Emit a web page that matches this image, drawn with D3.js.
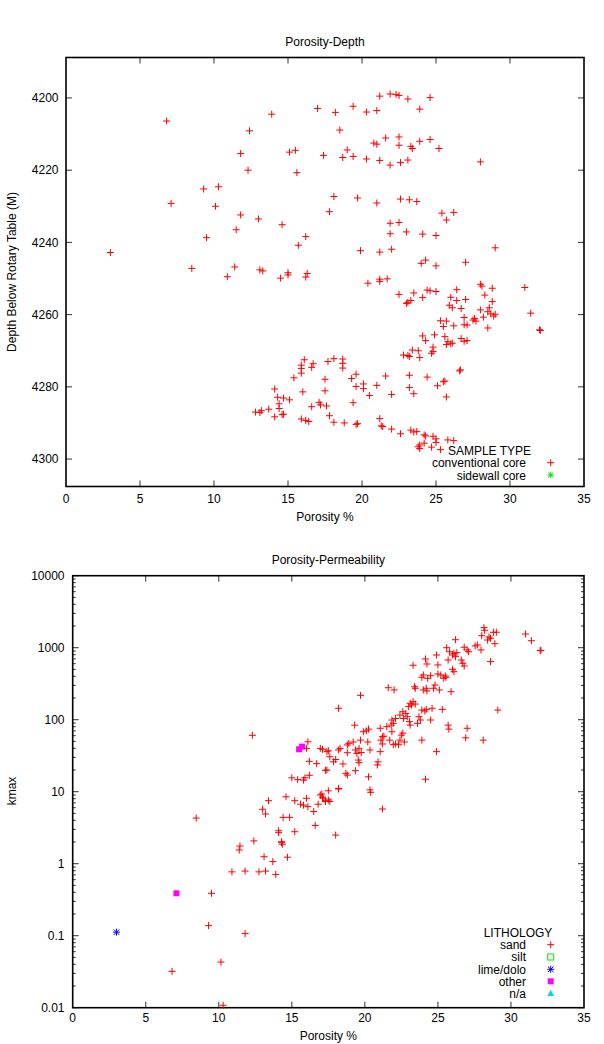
<!DOCTYPE html>
<html>
<head>
<meta charset="utf-8">
<script src="https://cdn.jsdelivr.net/npm/d3@7"></script>
<style>
  html, body { margin: 0; padding: 0; background: #fff; }
  svg { display: block; font-family: "Liberation Sans", Arial, Helvetica, sans-serif; }
</style>
</head>
<body>
<svg id="chart" width="604" height="1044"></svg>
<script>
// ---------- DATA ----------
const chartTitles = ["Porosity-Depth", "Porosity-Permeability"];
const xLabel = "Porosity %";
const depthLabel = "Depth Below Rotary Table (M)";
const permLabel = "kmax";
const porosityTicks = [0, 5, 10, 15, 20, 25, 30, 35];
const depthTicks = [4200, 4220, 4240, 4260, 4280, 4300];
const permTicks = [0.01, 0.1, 1, 10, 100, 1000, 10000];
const sampleTypes = ["conventional core", "sidewall core"];
const lithologies = ["sand", "silt", "lime/dolo", "other", "n/a"];

// Porosity-Depth: conventional core [porosity %, depth M]
const conventionalCore = [
[6.8,4206.4],[13.9,4204.5],[17.0,4202.9],[12.4,4209.1],[11.8,4215.4],[15.1,4215.0],[15.5,4214.5],[17.4,4215.9],[12.3,4220.0],[15.6,4220.7],
[9.3,4225.2],[10.3,4224.6],[7.1,4229.2],[10.1,4230.0],[11.8,4232.4],[13.0,4233.5],[14.6,4235.1],[11.5,4236.5],[16.2,4238.4],[15.7,4240.8],
[9.5,4238.7],[3.0,4242.8],[8.5,4247.2],[11.4,4246.8],[13.1,4247.6],[13.3,4247.9],[10.9,4249.5],[14.5,4249.9],[15.0,4248.4],[15.0,4249.0],
[16.3,4248.6],[16.2,4249.6],[17.8,4231.5],
[21.2,4199.5],[21.9,4198.9],[22.3,4199.0],[22.5,4199.3],[23.1,4200.3],[24.6,4199.9],[19.4,4202.3],[18.2,4204.0],[20.3,4203.9],[21.0,4203.5],
[23.9,4203.1],[18.5,4208.9],[19.0,4214.4],[18.7,4216.5],[19.4,4216.2],[20.3,4216.9],[20.8,4212.5],[21.0,4212.8],[21.6,4211.1],[22.5,4210.8],
[22.5,4213.1],[23.3,4213.4],[23.4,4214.0],[23.9,4212.0],[24.6,4211.5],[25.2,4214.0],[21.2,4217.3],[21.9,4218.6],[22.6,4217.9],[23.1,4217.2],
[28.0,4217.7],[18.1,4227.3],[19.7,4227.7],[21.0,4229.1],[22.6,4228.0],[23.2,4228.2],[23.7,4228.7],[25.4,4231.9],[26.2,4231.7],[25.7,4233.8],
[21.9,4234.7],[22.5,4234.5],[21.9,4237.6],[23.0,4237.1],[24.1,4237.7],[25.0,4238.1],[29.0,4241.5],[19.9,4242.3],[21.2,4242.7],[22.0,4241.9],
[24.0,4245.8],[24.3,4244.9],[25.0,4246.5],[27.0,4245.5],[21.2,4250.2],[21.7,4250.1],
[16.1,4272.5],[15.9,4274.0],[15.9,4274.9],[15.9,4276.2],[16.7,4273.6],[16.6,4274.6],[17.7,4273.0],[15.4,4277.5],[17.5,4277.9],[14.1,4280.6],
[16.0,4281.4],[17.5,4281.1],[14.3,4282.9],[14.7,4283.1],[15.1,4283.6],[14.4,4284.7],[14.4,4286.0],[13.7,4286.2],[12.8,4287.0],[13.1,4287.1],
[13.2,4286.6],[14.1,4288.3],[14.6,4287.7],[14.7,4287.6],[15.9,4288.9],[16.2,4289.3],[16.4,4289.6],[16.6,4285.5],[17.1,4284.3],[17.2,4285.0],
[17.6,4285.3],[17.8,4288.0],
[20.4,4251.3],[21.2,4250.8],[22.5,4254.4],[23.5,4254.0],[23.0,4256.9],[23.1,4256.6],[23.3,4256.1],[24.1,4255.3],[24.4,4253.2],[24.6,4253.4],
[25.0,4253.6],[26.4,4253.1],[28.0,4251.6],[28.1,4252.1],[28.8,4252.7],[31.0,4252.5],[28.3,4254.6],[26.0,4255.2],[25.9,4257.4],[26.1,4258.1],
[26.4,4256.1],[27.0,4255.8],[26.7,4258.3],[28.8,4256.4],[28.6,4258.1],[28.5,4259.2],[28.7,4259.8],[28.9,4260.4],[29.0,4259.9],[28.0,4258.7],
[28.2,4260.7],[31.4,4259.6],[32.0,4264.2],[32.05,4264.4],[28.5,4263.7],[27.6,4261.1],[27.7,4261.8],[27.5,4261.5],[26.9,4260.8],[26.9,4262.8],
[27.1,4262.9],[26.2,4263.1],[25.3,4261.7],[25.5,4263.3],[25.7,4261.8],[24.9,4265.6],[24.1,4265.9],[24.3,4267.2],[25.6,4266.1],[25.7,4268.3],
[26.0,4268.1],[26.1,4267.9],[25.8,4267.5],[26.7,4266.6],[27.1,4267.2],[26.9,4267.4],[24.8,4269.0],[24.8,4270.2],[24.7,4270.7],[23.4,4269.8],
[23.8,4270.0],[23.9,4271.9],[23.1,4271.3],[22.8,4271.2],[23.2,4271.6],[26.6,4275.6],[26.65,4275.3],[18.1,4272.2],[18.7,4272.3],[18.7,4273.5],
[18.7,4274.8],[19.3,4277.7],[19.6,4276.5],[19.6,4279.9],[20.1,4279.2],[20.1,4280.5],[20.5,4282.4],[21.0,4279.6],[21.6,4277.0],[22.0,4282.1],
[23.2,4280.2],[23.2,4276.8],[23.5,4281.9],[24.4,4277.3],[25.1,4279.7],[25.5,4278.6],[25.6,4278.4],[25.7,4282.8],[19.4,4284.4],[18.1,4289.8],
[18.8,4290.0],[19.6,4290.4],[19.7,4290.2],[21.2,4288.8],[21.3,4290.8],[21.4,4291.0],[22.0,4291.7],[22.6,4293.0],[23.3,4292.0],[23.5,4292.5],
[23.7,4292.4],[24.2,4293.3],[24.3,4293.6],[24.8,4293.7],[25.0,4294.4],[25.0,4295.4],[25.8,4294.7],[26.2,4294.9],[23.8,4296.6],[23.9,4296.1],
[24.2,4295.6],[23.9,4297.1],[24.7,4296.7],[25.3,4297.4]
];
const sidewallCore = [];

// Porosity-Permeability by lithology [porosity %, kmax]
const sand = [
[12.3,60.7],[16.1,49.4],[16.0,40],[17.1,38.8],[17.5,37],[16.2,26.4],[16.7,24.5],[17.3,19.8],[15.0,15.6],[15.4,14.7],[15.8,14.5],[15.9,15.6],[16.2,16.9],
[28.15,1897],[28.2,1745],[28.8,1637],[29.0,1640],[28.0,1468],[28.5,1409],[28.6,1352],[28.4,1279],[28.9,1138],[31.0,1549],[31.4,1250],[32.0,920],[32.05,910],
[26.2,1291],[27.55,1057],[27.7,1091],[27.0,931],[26.8,1014],[27.1,879],[27.95,931],[25.6,1000],[25.8,879],[26.0,792],[26.1,836],[26.3,853],[26.2,750],
[25.7,675],[24.9,792],[26.6,675],[26.7,607],[26.8,557],[28.6,640],[24.15,697],[24.25,594],[23.3,570],[26.0,501],[26.1,464],[25.0,576],[25.0,432],
[25.2,418],[25.5,405],[25.4,376],[25.55,388],[24.0,418],[23.9,388],[24.5,408],[24.3,376],[24.8,303],[24.7,273],[25.1,259],[24.2,273],[24.0,259],
[24.25,251],[23.4,287],[23.45,273],[25.9,245],[21.6,278],[22.0,259],[19.7,218],[23.1,169],[23.3,178],[23.2,160],[23.45,165],[23.0,152],[23.9,136],
[24.1,132],[24.2,139],[24.6,144],[25.3,139],[18.2,144],[29.1,136],[22.6,129],[22.8,122],[22.4,116],[22.9,110],[22.65,104],[23.7,110],[23.8,99],
[23.05,94],[23.6,89],[23.1,84],[24.5,99],[21.85,99],[21.95,89],[21.8,84],[21.5,80],[22.1,104],[25.7,84],[25.75,74],[27.0,76],[26.9,56],[28.1,52],
[19.3,84],[19.9,68],[20.25,74],[20.1,70],[21.05,76],[21.2,58],[21.3,59],[21.1,52],[21.2,46],[21.05,36],[20.9,26],[20.85,23.5],[21.85,68],[21.7,52],
[21.95,45],[22.4,52],[22.5,61],[22.6,65],[22.7,49],[22.3,45],[22.1,46],[23.9,52],[24.9,36],[24.15,14.9],
[16.95,40],[17.4,36],[17.6,30.6],[17.85,26],[17.4,20],[18.2,38],[18.0,28],[18.3,40],[18.5,24.3],[18.8,44.6],[18.9,47],[18.8,34.8],[18.8,17],[18.7,18],
[19.2,49],[19.35,38],[19.45,34],[19.35,19.6],[19.6,40],[19.7,52],[19.75,35],[19.55,27.5],[19.6,25.3],[20.2,49],[20.35,38],[20.25,16.1],[18.2,11.1],[20.35,10.6],
[14.6,8.5],[15.2,7.5],[16.0,8.1],[16.95,9.0],[17.1,8.4],[17.3,7.5],[17.5,7.7],[15.6,6.7],[15.8,6.5],[16.1,6.2],[16.5,5.3],[16.8,6.7],[13.4,7.5],
[13.0,5.7],[13.2,4.9],[14.4,4.4],[14.85,4.4],[16.6,3.4],[14.1,2.87],[14.1,2.7],[15.2,2.78],[14.3,1.96],[14.35,1.86],[14.3,2.02],[12.4,2.07],[11.45,1.76],
[11.4,1.55],[13.1,1.25],[13.7,1.07],[14.7,1.23],[10.9,0.77],[11.8,0.79],[12.75,0.77],[13.2,0.79],[13.9,0.71],[9.5,0.388],[9.3,0.138],[11.8,0.107],
[10.15,0.043],[6.8,0.032],[10.3,0.0108],[8.45,4.3],
[18.2,10.9],[17.5,10.3],[17.05,9.3],[17.15,8.1],[17.3,7.3],[17.6,7.3],[20.4,9.8],[21.2,5.75],[18.0,2.5]
];
const silt = [];
const limeDolo = [[3.0,0.112]];
const other = [[15.5,38.8],[15.7,42.2],[7.1,0.388]];
const notAvailable = [];

// ---------- DRAWING ----------
const svg = d3.select("#chart");
const FONT = 12;

function plus(g, x, y, color, s) {
  g.append("path").attr("d", `M${x - s},${y}H${x + s}M${x},${y - s}V${y + s}`)
    .attr("stroke", color).attr("stroke-width", 1).attr("fill", "none");
}
function cross(g, x, y, color, s) {
  g.append("path").attr("d", `M${x - s},${y - s}L${x + s},${y + s}M${x - s},${y + s}L${x + s},${y - s}`)
    .attr("stroke", color).attr("stroke-width", 1).attr("fill", "none");
}
function star(g, x, y, color, s) { plus(g, x, y, color, s); cross(g, x, y, color, s * 0.8); }
function openSquare(g, x, y, color, s) {
  g.append("rect").attr("x", x - s).attr("y", y - s).attr("width", 2 * s).attr("height", 2 * s)
    .attr("stroke", color).attr("stroke-width", 1).attr("fill", "none");
}
function filledSquare(g, x, y, color, s) {
  g.append("rect").attr("x", x - s).attr("y", y - s).attr("width", 2 * s).attr("height", 2 * s).attr("fill", color);
}
function triangle(g, x, y, color, s) {
  g.append("path").attr("d", `M${x},${y - s}L${x + s},${y + s * 0.8}L${x - s},${y + s * 0.8}Z`).attr("fill", color);
}

function drawFrame(L, R, T, B, x, y, yTicks, yFmt, logMinor, title, ylab, ylabY, xLabBase, yLabRight) {
  const g = svg.append("g");
  // x ticks (bottom & top, inward)
  porosityTicks.forEach(v => {
    const px = x(v);
    if (v !== 0 && v !== 35) {
      g.append("line").attr("x1", px).attr("x2", px).attr("y1", B).attr("y2", B - 6).attr("stroke", "#333");
      g.append("line").attr("x1", px).attr("x2", px).attr("y1", T).attr("y2", T + 6).attr("stroke", "#333");
    }
    g.append("text").attr("x", px).attr("y", xLabBase).attr("text-anchor", "middle")
      .attr("font-size", FONT).text(v);
  });
  // y ticks
  yTicks.forEach(v => {
    const py = y(v);
    g.append("line").attr("x1", L).attr("x2", L + 6).attr("y1", py).attr("y2", py).attr("stroke", "#333");
    g.append("line").attr("x1", R).attr("x2", R - 6).attr("y1", py).attr("y2", py).attr("stroke", "#333");
    g.append("text").attr("x", yLabRight).attr("y", py).attr("dy", "0.35em").attr("text-anchor", "end")
      .attr("font-size", FONT).text(yFmt(v));
  });
  if (logMinor) {
    for (let e = -2; e < 4; e++) {
      for (let m = 2; m <= 9; m++) {
        const py = y(m * Math.pow(10, e));
        g.append("line").attr("x1", L).attr("x2", L + 3).attr("y1", py).attr("y2", py).attr("stroke", "#333");
        g.append("line").attr("x1", R).attr("x2", R - 3).attr("y1", py).attr("y2", py).attr("stroke", "#333");
      }
    }
  }
  g.append("rect").attr("x", L).attr("y", T).attr("width", R - L).attr("height", B - T)
    .attr("fill", "none").attr("stroke", "#000").attr("stroke-width", 1.6);
  g.append("text").attr("x", (L + R) / 2).attr("y", T - 12).attr("text-anchor", "middle")
    .attr("font-size", FONT).text(title);
  g.append("text").attr("x", (L + R) / 2).attr("y", xLabBase + 18).attr("text-anchor", "middle")
    .attr("font-size", FONT).text(xLabel);
  g.append("text").attr("transform", `translate(16,${ylabY}) rotate(-90)`).attr("text-anchor", "middle")
    .attr("font-size", FONT).text(ylab);
  return g;
}

// ----- Panel 1: Porosity-Depth -----
{
  const L = 66, R = 584, T = 57.5, B = 486.5;
  const x = d3.scaleLinear().domain([0, 35]).range([L, R]);
  const y = d3.scaleLinear().domain([4188.8, 4307.6]).range([T, B]);
  drawFrame(L, R, T, B, x, y, depthTicks, d => d, false, chartTitles[0], depthLabel, (T + B) / 2, 503, 58.5);
  const pts = svg.append("g");
  conventionalCore.forEach(d => plus(pts, x(d[0]), y(d[1]), "#ff0000", 3.5));
  sidewallCore.forEach(d => cross(pts, x(d[0]), y(d[1]), "#00cc00", 3));
  // legend
  const lg = svg.append("g").attr("font-size", FONT);
  lg.append("text").attr("x", 489.5).attr("y", 455).attr("text-anchor", "middle").text("SAMPLE TYPE");
  lg.append("text").attr("x", 526).attr("y", 467).attr("text-anchor", "end").text(sampleTypes[0]);
  lg.append("text").attr("x", 526).attr("y", 479.5).attr("text-anchor", "end").text(sampleTypes[1]);
  plus(lg, 550.7, 462.7, "#ff0000", 3.5);
  star(lg, 550.7, 475, "#00dd00", 3.2);
}

// ----- Panel 2: Porosity-Permeability -----
{
  const L = 72.7, R = 584, T = 575.7, B = 1007.7;
  const x = d3.scaleLinear().domain([0, 35]).range([L, R]);
  const y = d3.scaleLog().domain([0.01, 10000]).range([B, T]);
  drawFrame(L, R, T, B, x, y, permTicks, d => (d < 1 ? String(d) : d3.format("d")(d)), true,
    chartTitles[1], permLabel, 791, 1021.5, 64.5);
  const pts = svg.append("g");
  sand.forEach(d => plus(pts, x(d[0]), y(d[1]), "#ff0000", 3.5));
  silt.forEach(d => openSquare(pts, x(d[0]), y(d[1]), "#00dd00", 3));
  limeDolo.forEach(d => star(pts, x(d[0]), y(d[1]), "#0000ff", 3.5));
  other.forEach(d => filledSquare(pts, x(d[0]), y(d[1]), "#ff00ff", 3));
  notAvailable.forEach(d => triangle(pts, x(d[0]), y(d[1]), "#00dddd", 3.5));
  const lg = svg.append("g").attr("font-size", FONT);
  lg.append("text").attr("x", 518).attr("y", 937).attr("text-anchor", "middle").text("LITHOLOGY");
  const ys = [944.7, 957, 969.3, 981.3, 993.3];
  lithologies.forEach((t, i) => {
    lg.append("text").attr("x", 526).attr("y", ys[i] + 4.3).attr("text-anchor", "end").text(t);
  });
  plus(lg, 550.7, ys[0], "#ff0000", 3.5);
  openSquare(lg, 550.7, ys[1], "#00ee00", 3);
  star(lg, 550.7, ys[2], "#0000ff", 3.5);
  filledSquare(lg, 550.7, ys[3], "#ff00ff", 3);
  triangle(lg, 550.7, ys[4], "#00dddd", 3.5);
}
</script>
</body>
</html>
